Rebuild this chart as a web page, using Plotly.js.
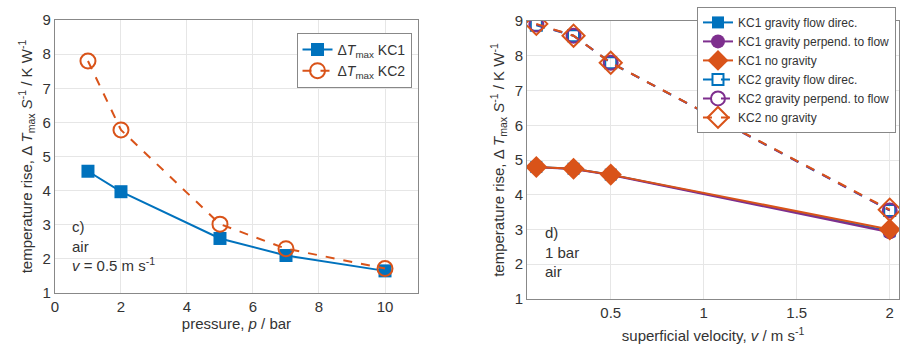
<!DOCTYPE html>
<html><head><meta charset="utf-8">
<script src="https://cdn.plot.ly/plotly-3.0.1.min.js"></script>
<style>html,body{margin:0;padding:0;background:#fff}#chart{width:904px;height:346px}</style>
</head><body><div id="chart"></div>
<script>
// Panel c) pressure sweep
const pressure = [1, 2, 5, 7, 10];
const kc1_p = [4.57, 3.97, 2.6, 2.1, 1.65];
const kc2_p = [7.8, 5.78, 3.02, 2.3, 1.72];
// Panel d) velocity sweep
const velocity = [0.1, 0.3, 0.5, 2];
const kc1_flow = [4.8, 4.75, 4.58, 2.95];
const kc1_perp = [4.79, 4.74, 4.57, 2.92];
const kc1_nog = [4.8, 4.75, 4.58, 3.0];
const kc2_flow = [8.88, 8.58, 7.8, 3.55];
const kc2_perp = [8.9, 8.58, 7.8, 3.55];
const kc2_nog = [8.92, 8.58, 7.8, 3.57];

const BLUE = '#0072BD', ORANGE = '#D95319', PURPLE = '#7E2F8E';
const FONT = 'Liberation Sans, Arial, sans-serif';
const TXT = '#333';

const traces = [
  {x: pressure, y: kc1_p, name: 'Δ<i>T</i><sub>max</sub> KC1', mode: 'lines+markers',
   line: {color: BLUE, width: 2}, marker: {symbol: 'square', size: 13, color: BLUE},
   xaxis: 'x', yaxis: 'y', legend: 'legend'},
  {x: pressure, y: kc2_p, name: 'Δ<i>T</i><sub>max</sub> KC2', mode: 'lines+markers',
   line: {color: ORANGE, width: 2, dash: 'dash'},
   marker: {symbol: 'circle-open', size: 15, color: ORANGE, line: {width: 2, color: ORANGE}},
   xaxis: 'x', yaxis: 'y', legend: 'legend'},
  {x: velocity, y: kc1_flow, name: 'KC1 gravity flow direc.', mode: 'lines+markers',
   line: {color: BLUE, width: 2}, marker: {symbol: 'square', size: 12, color: BLUE},
   xaxis: 'x2', yaxis: 'y2', legend: 'legend2'},
  {x: velocity, y: kc1_perp, name: 'KC1 gravity perpend. to flow', mode: 'lines+markers',
   line: {color: PURPLE, width: 2}, marker: {symbol: 'circle', size: 14, color: PURPLE},
   xaxis: 'x2', yaxis: 'y2', legend: 'legend2'},
  {x: velocity, y: kc1_nog, name: 'KC1 no gravity', mode: 'lines+markers',
   line: {color: ORANGE, width: 2}, marker: {symbol: 'diamond', size: 17, color: ORANGE},
   xaxis: 'x2', yaxis: 'y2', legend: 'legend2'},
  {x: velocity, y: kc2_flow, name: 'KC2 gravity flow direc.', mode: 'lines+markers',
   line: {color: BLUE, width: 2, dash: 'dash'},
   marker: {symbol: 'square-open', size: 11, color: BLUE, line: {width: 2, color: BLUE}},
   xaxis: 'x2', yaxis: 'y2', legend: 'legend2'},
  {x: velocity, y: kc2_perp, name: 'KC2 gravity perpend. to flow', mode: 'lines+markers',
   line: {color: PURPLE, width: 2, dash: 'dash'},
   marker: {symbol: 'circle-open', size: 14, color: PURPLE, line: {width: 2, color: PURPLE}},
   xaxis: 'x2', yaxis: 'y2', legend: 'legend2'},
  {x: velocity, y: kc2_nog, name: 'KC2 no gravity', mode: 'lines+markers',
   line: {color: ORANGE, width: 2, dash: 'dash'},
   marker: {symbol: 'diamond-open', size: 17, color: ORANGE, line: {width: 2, color: ORANGE}},
   xaxis: 'x2', yaxis: 'y2', legend: 'legend2'}
];

const axBase = {showline: true, mirror: true, linecolor: '#888', linewidth: 1,
  showgrid: true, gridcolor: '#e6e6e6', zeroline: false, ticks: 'outside', ticklen: 0,
  tickfont: {family: FONT, size: 15, color: TXT}};

const ytitle = 'temperature rise, Δ <i>T</i><sub>max</sub> <i>S</i><sup>-1</sup> / K W<sup>-1</sup>';
const tfont = {family: FONT, size: 15, color: TXT};

const layout = {
  width: 904, height: 346, margin: {l: 0, r: 0, t: 0, b: 0},
  paper_bgcolor: '#fff', plot_bgcolor: '#fff', font: {family: FONT, color: TXT},
  xaxis: Object.assign({}, axBase, {domain: [0.0608, 0.4624], range: [0, 11], tickvals: [0, 2, 4, 6, 8, 10],
    anchor: 'y', title: {text: 'pressure, <i>p</i> / bar', font: tfont, standoff: 4}}),
  yaxis: Object.assign({}, axBase, {domain: [0.153, 0.942], range: [1, 9], dtick: 1, anchor: 'x',
    title: {text: ytitle, font: tfont, standoff: 6}}),
  xaxis2: Object.assign({}, axBase, {domain: [0.583, 0.9945], range: [0.05, 2.05], tickvals: [0.5, 1, 1.5, 2],
    anchor: 'y2', title: {text: 'superficial velocity, <i>v</i> / m s<sup>-1</sup>', font: tfont, standoff: 10}}),
  yaxis2: Object.assign({}, axBase, {domain: [0.136, 0.939], range: [1, 9], dtick: 1, anchor: 'x2',
    title: {text: ytitle, font: tfont, standoff: 6}}),
  legend: {x: 0.328, y: 0.905, xanchor: 'left', yanchor: 'top', bgcolor: '#fff',
    bordercolor: '#888', borderwidth: 1, font: {family: FONT, size: 14, color: TXT},
    tracegroupgap: 0, itemwidth: 30},
  legend2: {x: 0.771, y: 0.98, xanchor: 'left', yanchor: 'top', bgcolor: '#fff',
    bordercolor: '#888', borderwidth: 1, font: {family: FONT, size: 12, color: TXT},
    tracegroupgap: 0, itemwidth: 30},
  annotations: [
    {xref: 'paper', yref: 'paper', x: 70 / 904, y: 1 - 216 / 346, xanchor: 'left', yanchor: 'top',
     text: 'c)<br>air<br><i>v</i> = 0.5 m s<sup>-1</sup>', align: 'left', showarrow: false,
     font: {family: FONT, size: 15, color: TXT}},
    {xref: 'paper', yref: 'paper', x: 543 / 904, y: 1 - 222 / 346, xanchor: 'left', yanchor: 'top',
     text: 'd)<br>1 bar<br>air', align: 'left', showarrow: false,
     font: {family: FONT, size: 15, color: TXT}}
  ],
  showlegend: true
};

Plotly.newPlot('chart', traces, layout, {staticPlot: true, displayModeBar: false});
</script></body></html>
